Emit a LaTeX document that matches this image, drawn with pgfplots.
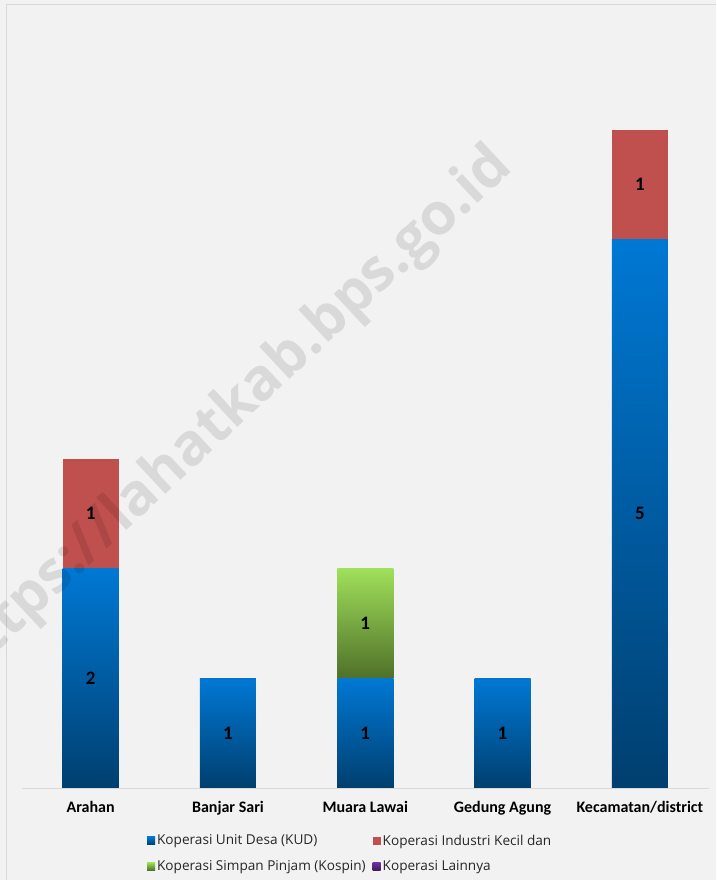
\documentclass[border=0pt]{standalone}
\usepackage{fontspec}
\setmainfont{Carlito}
\newfontfamily\legendfont{Open Sans}
\newfontfamily\wmfont{Open Sans}
\usepackage{pgfplots}
\pgfplotsset{compat=1.18}

\definecolor{bgc}{HTML}{F2F2F2}
\definecolor{framec}{HTML}{D9D9D9}
\definecolor{kudtop}{HTML}{0078D4}
\definecolor{kudbot}{HTML}{003F6F}
\definecolor{indc}{HTML}{C0504D}
\definecolor{kostop}{HTML}{A0E05A}
\definecolor{kosbot}{HTML}{4F7029}
\definecolor{laintop}{HTML}{7030A0}
\definecolor{lainbot}{HTML}{3F1A5C}

\pgfplotsset{
  frame/.style={at={(22pt,-788pt)}, anchor=south west, scale only axis,
    width=686.5pt, height=768pt, xmin=-0.5, xmax=4.5, ymin=0, ymax=7},
  % one axis per category, so that every segment gets its own gradient
  seg/.style={frame, hide axis, ybar stacked, bar width=56pt, clip=false},
  kud/.style={top color=kudtop, bottom color=kudbot, draw=none},
  ind/.style={fill=indc, draw=none},
  kos/.style={top color=kostop, bottom color=kosbot, draw=none},
  lain/.style={top color=laintop, bottom color=lainbot, draw=none},
  sqleg/.style={legend image code/.code={\path[##1,draw=none] (0pt,-4pt) rectangle (8pt,4pt);}},
  % stacked bars already put the label in the middle of the segment
  midlabel/.style={
    point meta=explicit,
    nodes near coords={\pgfmathprintnumber[assume math mode=true]{\pgfplotspointmeta}},
    every node near coord/.style={anchor=center,
      font=\fontsize{19}{22}\selectfont\bfseries, text=black},
  },
}

\begin{document}
\begin{tikzpicture}
\clip (0,0) rectangle (716pt,-880pt);
\fill[bgc] (0,0) rectangle (716pt,-880pt);
\draw[framec, line width=1pt] (6pt,-880pt) -- (6pt,-5pt) -- (716pt,-5pt);

% Arahan
\begin{axis}[seg]
\addplot[kud, midlabel] coordinates {(0,2) [2]};
\addplot[ind, midlabel] coordinates {(0,1) [1]};
\end{axis}
% Banjar Sari
\begin{axis}[seg]
\addplot[kud, midlabel] coordinates {(1,1) [1]};
\end{axis}
% Muara Lawai
\begin{axis}[seg]
\addplot[kud, midlabel] coordinates {(2,1) [1]};
\addplot[kos, midlabel] coordinates {(2,1) [1]};
\end{axis}
% Gedung Agung
\begin{axis}[seg]
\addplot[kud, midlabel] coordinates {(3,1) [1]};
\end{axis}
% Kecamatan
\begin{axis}[seg]
\addplot[kud, midlabel] coordinates {(4,5) [5]};
\addplot[ind, midlabel] coordinates {(4,1) [1]};
\end{axis}

% axis line, category names and legend
\begin{axis}[
  frame,
  axis x line*=bottom, axis y line=none,
  x axis line style={draw=framec, line width=1pt},
  xtick={0,1,2,3,4},
  xticklabels={Arahan, Banjar Sari, Muara Lawai, Gedung Agung, Kecamatan/district},
  xtick style={draw=none}, major tick length=0pt,
  xticklabel style={font=\fontsize{16}{19}\selectfont\bfseries, yshift=-10pt, text=black},
  legend columns=2, legend cell align=left,
  legend style={draw=none, fill=none, at={(axis description cs:0.182,-0.058)}, anchor=north west,
    font=\legendfont\fontsize{13.6}{16}\selectfont, text=black!85,
    /tikz/every even column/.append style={column sep=5pt}, row sep=10pt, inner sep=0pt},
]
\addlegendimage{sqleg, kud}
\addlegendentry{Koperasi Unit Desa (KUD)}
\addlegendimage{sqleg, ind}
\addlegendentry{Koperasi Industri Kecil dan}
\addlegendimage{sqleg, kos}
\addlegendentry{Koperasi Simpan Pinjam (Kospin)}
\addlegendimage{sqleg, lain}
\addlegendentry{Koperasi Lainnya}
\end{axis}

% watermark
\node[rotate=43, text=black, text opacity=0.1, font=\wmfont\bfseries\fontsize{58}{62}\selectfont]
  at (229pt,-415pt) {https://lahatkab.bps.go.id};
\end{tikzpicture}
\end{document}
